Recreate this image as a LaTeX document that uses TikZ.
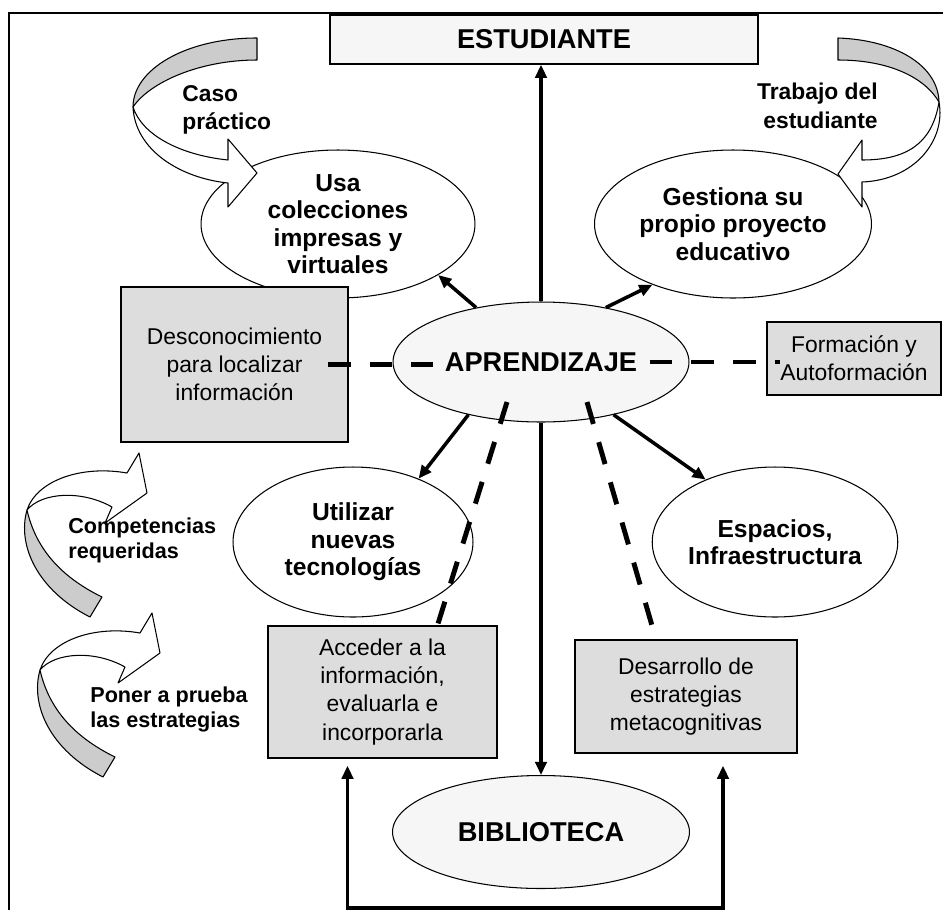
\documentclass[tikz,border=0pt]{standalone}
\usepackage{fontspec}
\setmainfont{Liberation Sans}
\usetikzlibrary{arrows.meta,shapes.geometric,calc}
\definecolor{boxgray}{HTML}{DDDDDD}
\definecolor{bandgray}{HTML}{CCCCCC}
\definecolor{palegray}{HTML}{F6F6F6}

\begin{document}
\begin{tikzpicture}[x=0.02cm, y=-0.02cm,
			Sat/.style={draw, ellipse, fill=white, line width=0.6pt, inner sep=0pt,
				align=center, font=\fontsize{14}{15.6}\selectfont\bfseries},
			Main/.style={draw, ellipse, fill=palegray, line width=0.6pt, inner sep=0pt,
				font=\fontsize{15.5}{18}\selectfont\bfseries},
			Box/.style={draw, fill=boxgray, line width=0.8pt, inner sep=0pt,
				align=center, font=\fontsize{13}{16}\selectfont},
			Lbl/.style={inner sep=0pt, font=\fontsize{13}{16.3}\selectfont\bfseries},
			Lbl2/.style={inner sep=0pt, align=left, font=\fontsize{12.3}{14.2}\selectfont\bfseries},
			Arr/.style={line width=2pt, -{Triangle[length=7.5pt,width=6.5pt]}},
			DashLine/.style={line width=2.8pt, dash pattern=on 13pt off 10.8pt},
			Band/.style={draw, fill=bandgray, line width=0.6pt, line join=round},
			Front/.style={draw, fill=white, line width=0.6pt, line join=round},
			]
			\useasboundingbox (0,0) rectangle (943,910);
			\draw[line width=1pt] (9,910) -- (9,13) -- (943,13);
			
			\node [draw, fill=palegray, line width=0.8pt, minimum width=8.56cm, minimum height=0.98cm,
			font=\fontsize{15.5}{18}\selectfont\bfseries] (est) at (544,39.5) {ESTUDIANTE};
			
			\node [Sat, minimum width=5.48cm, minimum height=2.96cm] (usa) at (338,224) {Usa\\colecciones\\impresas y\\virtuales};
			\node [Sat, minimum width=5.54cm, minimum height=2.96cm] (gest) at (733,224) {Gestiona su\\propio proyecto\\educativo};
			\node [Sat, minimum width=4.8cm, minimum height=3cm] (util) at (353,542) {Utilizar\\nuevas\\tecnologías};
			\node [Sat, minimum width=4.8cm, minimum height=3cm] (esp) at (775,542) {Espacios,\\Infraestructura};
			\node [Main, minimum width=5.92cm, minimum height=2.4cm] (apr) at (541,362) {APRENDIZAJE};
			\node [Main, minimum width=5.94cm, minimum height=2.26cm] (bib) at (541,832) {BIBLIOTECA};
			
			% curved arrows
			\draw[Band] (257,38) .. controls (185,38) and (133,70) .. (133,107) .. controls (150,82) and (200,60) .. (257,60) -- cycle;
			\draw[Front] (133,107) .. controls (135,150) and (180,178) .. (228,183) -- (228,207) -- (257,173) -- (228,139)
			-- (228,160) .. controls (180,155) and (142,135) .. (133,107) -- cycle;
			
			\draw[Band] (838,38) .. controls (895,40) and (938,65) .. (939,102) .. controls (925,78) and (890,60) .. (838,60) -- cycle;
			\draw[Front] (939,102) .. controls (946,140) and (915,180) .. (862,182) -- (862,207) -- (838,174) -- (862,140)
			-- (862,160) .. controls (905,160) and (932,145) .. (939,102) -- cycle;
			
			\begin{scope}[shift={(-13,-160)}]
				\draw[Band] (40,670) .. controls (30,705) and (50,750) .. (103,777) -- (115,757) .. controls (70,735) and (48,705) .. (40,670) -- cycle;
				\draw[Front] (40,670) .. controls (50,640) and (95,625) .. (140,633) -- (152,613) -- (160,653) -- (118,683)
				-- (125,667) .. controls (95,650) and (55,652) .. (40,670) -- cycle;
			\end{scope}
			\draw[Band] (40,670) .. controls (30,705) and (50,750) .. (103,777) -- (115,757) .. controls (70,735) and (48,705) .. (40,670) -- cycle;
			\draw[Front] (40,670) .. controls (50,640) and (95,625) .. (140,633) -- (152,613) -- (160,653) -- (118,683)
			-- (125,667) .. controls (95,650) and (55,652) .. (40,670) -- cycle;
			
			\node [Lbl, anchor=west, align=left] (caso) at (182,110) {Caso\\práctico};
			\node [Lbl, anchor=east, align=right] (trab) at (878,106) {Trabajo del\\estudiante};
			\node [Lbl2, anchor=west] (comp) at (68,540) {Competencias\\requeridas};
			\node [Lbl2, anchor=west] (poner) at (90,709) {Poner a prueba\\las estrategias};
			
			\node [Box, minimum width=4.54cm, minimum height=3.1cm] (desc) at (234.5,364.5) {Desconocimiento\\para localizar\\información};
			\node [Box, minimum width=3.48cm, minimum height=1.46cm] (form) at (854,358.5) {Formación y\\Autoformación};
			\node [Box, minimum width=4.58cm, minimum height=2.64cm] (acc) at (382.5,692) {Acceder a la\\información,\\evaluarla e\\incorporarla};
			\node [Box, minimum width=4.44cm, minimum height=2.26cm] (des) at (686,696.5) {Desarrollo de\\estrategias\\metacognitivas};
			
			\draw[Arr] (apr.north) -- (apr.north |- est.south);
			\draw[Arr] (apr.south) -- (bib.north);
			\draw[Arr] (apr.140) -- (usa.-27);
			\draw[Arr] (apr.40) -- (gest.-143);
			\draw[Arr] (apr.-144) -- (util.44);
			\draw[Arr] (apr.-36) -- (esp.138);
			
			\coordinate (base) at (541,908);
			\draw[line width=2pt, {Triangle[length=7.5pt,width=6.5pt]}-{Triangle[length=7.5pt,width=6.5pt]}]
			($(acc.south)+(-35,7)$) |- (base) -| ($(des.south)+(37,12)$);
			
			\draw[DashLine, shorten <=-0.42cm, shorten >=-0.8cm] (desc.east) -- (desc.east -| apr.west);
			\draw[DashLine, shorten <=-0.8cm, shorten >=-0.28cm] (apr.east) -- (apr.east -| form.west);
			\coordinate (dl) at (507,402);
			\coordinate (dr) at (587,402);
			\draw[DashLine] (dl) -- ($(acc.north)+(55,0)$);
			\draw[DashLine] (dr) -- ($(des.north)+(-30,0)$);
		\end{tikzpicture}
\end{document}
